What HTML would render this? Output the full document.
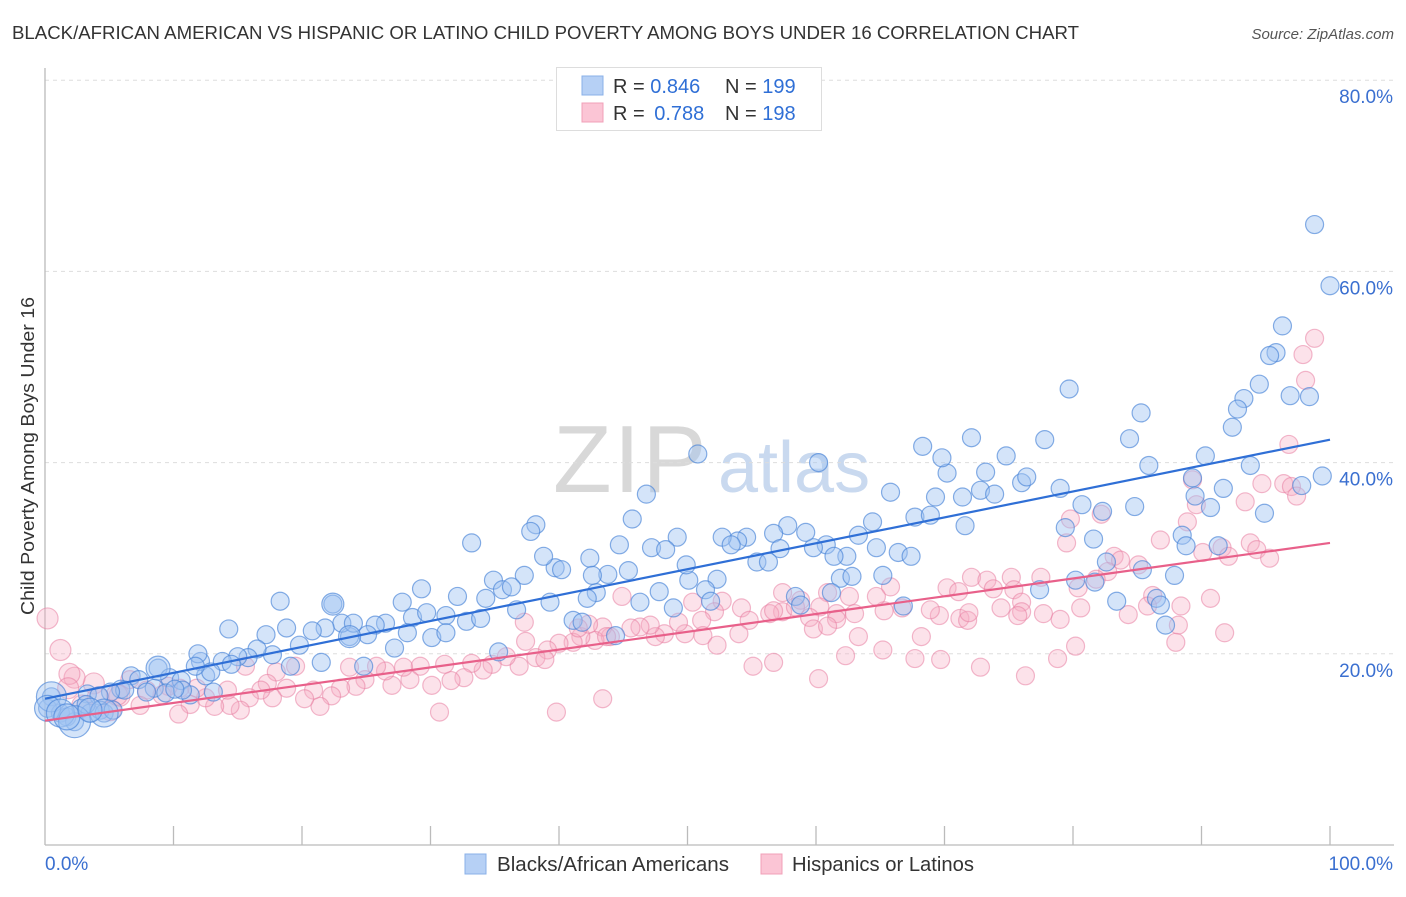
<!DOCTYPE html>
<html><head><meta charset="utf-8">
<style>
body{margin:0;background:#fff;width:1406px;height:892px;overflow:hidden;font-family:"Liberation Sans",sans-serif;}
svg text{font-family:"Liberation Sans",sans-serif;}
</style></head>
<body>
<svg id="chart" width="1406" height="892" xmlns="http://www.w3.org/2000/svg">
<text x="12" y="39" font-size="18" fill="#333" textLength="1067" lengthAdjust="spacingAndGlyphs">BLACK/AFRICAN AMERICAN VS HISPANIC OR LATINO CHILD POVERTY AMONG BOYS UNDER 16 CORRELATION CHART</text>
<text x="1394" y="39" font-size="15" fill="#555" text-anchor="end" font-style="italic">Source: ZipAtlas.com</text>
<g>
<text x="553" y="492" font-size="96" fill="#d8d8d8" font-family="Liberation Serif, serif" letter-spacing="2">ZIP</text>
<text x="718" y="492" font-size="72" fill="#c9d9ef">atlas</text>
</g>
<g id="grid"></g>
<g id="axes"></g>
<g id="pinkPts"></g>
<g id="bluePts"></g>
<g id="trends"></g>
<text transform="translate(34,456) rotate(-90)" font-size="18" fill="#333" text-anchor="middle" textLength="318" lengthAdjust="spacingAndGlyphs">Child Poverty Among Boys Under 16</text>
<g>
<rect x="556.5" y="67.5" width="265" height="63" fill="#fff" stroke="#ddd"/>
<rect x="582" y="76" width="21" height="19" fill="#b6d0f5" stroke="#8ab0e8"/>
<rect x="582" y="103" width="21" height="19" fill="#fbc5d5" stroke="#f0a0b8"/>
<text x="613" y="93" font-size="20" fill="#333">R = <tspan fill="#2f6fd6">0.846</tspan><tspan x="725">N = </tspan><tspan fill="#2f6fd6">199</tspan></text>
<text x="613" y="120" font-size="20" fill="#333">R = <tspan fill="#2f6fd6" dx="4">0.788</tspan><tspan x="725">N = </tspan><tspan fill="#2f6fd6">198</tspan></text>
</g>
<g>
<rect x="465" y="854" width="21" height="20" fill="#b6d0f5" stroke="#8ab0e8"/>
<text x="497" y="871" font-size="20" fill="#333" textLength="232" lengthAdjust="spacingAndGlyphs">Blacks/African Americans</text>
<rect x="761" y="854" width="21" height="20" fill="#fbc5d5" stroke="#f0a0b8"/>
<text x="792" y="871" font-size="20" fill="#333" textLength="182" lengthAdjust="spacingAndGlyphs">Hispanics or Latinos</text>
</g>
</svg>
<script>
const yTicks=[20,40,60,80];
const yTickLabels=["20.0%","40.0%","60.0%","80.0%"];
const xTickLabels=["0.0%","100.0%"];
const blueX=[98.8,100,96.3,95.8,95.3,94.5,96.9,98.4,93.3,92.8,92.4,79.7,85.3,99.4,97.8,93.8,90.3,89.3,85.9,84.4,91.7,90.7,94.9,89.5,88.5,91.3,88.8,85.4,87.9,84.8,82.3,80.7,81.6,79.4,82.6,80.2,81.7,77.4,83.4,86.5,86.8,87.2,77.8,72.1,74.8,73.2,76.0,79.0,76.4,72.8,73.9,71.4,69.3,70.2,68.3,69.8,65.8,67.7,68.9,71.6,64.4,63.3,64.7,66.4,67.4,62.4,60.8,59.8,59.2,57.8,56.7,57.2,55.4,56.3,54.6,53.9,52.7,53.4,60.2,50.8,52.3,50.1,49.9,49.2,47.2,48.3,46.8,45.7,44.7,45.4,43.8,42.4,42.9,42.6,42.2,61.9,62.8,65.2,61.2,58.4,58.8,51.4,51.8,48.9,47.8,46.3,66.8,61.4,38.2,37.8,39.7,40.2,38.8,33.2,37.3,34.9,35.6,36.3,34.3,32.1,39.3,41.1,41.8,44.4,36.7,35.3,29.3,27.8,28.6,29.7,31.2,32.8,33.9,30.1,31.2,28.2,26.5,25.7,25.1,27.2,24.8,23.7,22.4,23.1,24.0,21.8,20.8,19.8,18.8,18.3,17.2,14.3,17.7,21.5,19.1,16.5,15.8,15.0,13.8,14.5,12.1,12.5,12.9,11.9,11.7,8.8,9.7,10.6,6.7,7.3,8.5,7.9,5.9,6.2,5.1,3.3,4.2,0.5,0.2,1.2,1.7,2.3,2.8,3.5,4.3,4.6,5.3,3.2,9.4,11.3,10.7,10.1,13.1];
const blueY=[64.9,58.5,54.3,51.5,51.2,48.2,47.0,46.9,46.7,45.6,43.7,47.7,45.2,38.6,37.6,39.7,40.7,38.4,39.7,42.5,37.3,35.3,34.7,36.5,32.4,31.3,31.3,28.8,28.2,35.4,34.9,35.6,32.0,33.2,29.6,27.7,27.5,26.7,25.5,25.8,25.1,23.0,42.4,42.6,40.7,39.0,37.9,37.3,38.5,37.1,36.7,36.4,36.4,38.9,41.7,40.5,36.9,34.3,34.5,33.4,33.8,32.4,31.1,30.6,30.2,30.2,31.4,31.1,32.7,33.4,32.6,31.0,29.6,29.6,32.2,31.8,32.2,31.4,40.0,40.9,27.8,27.7,29.3,32.2,31.1,30.9,36.7,34.1,31.4,28.7,28.3,30.0,26.4,28.2,25.8,27.9,28.1,28.2,26.4,26.0,25.1,26.7,25.5,24.8,26.5,25.4,25.0,30.2,33.5,32.8,29.0,28.8,30.2,31.6,28.2,27.7,26.7,27.0,25.8,26.0,25.4,23.5,23.3,21.9,24.6,20.2,26.8,25.4,23.8,24.3,24.0,23.4,23.7,21.7,22.2,22.2,23.2,23.0,22.0,20.6,18.7,21.8,25.2,23.2,23.2,22.7,22.4,20.9,22.7,25.5,22.0,22.6,19.9,19.1,18.7,20.5,19.6,19.7,19.2,18.9,19.2,17.7,18.1,20.0,18.7,18.5,17.5,17.2,17.7,17.3,16.4,16.0,16.3,16.2,16.0,15.8,15.6,15.5,14.3,13.8,13.4,12.9,14.3,13.8,14.1,13.8,14.1,14.7,15.9,15.7,16.2,16.3,16.0];
const blueBig=[[0.5,15.5,15],[0.2,14.3,13],[1.2,13.8,14],[2.3,12.9,16],[1.7,13.4,13],[4.6,13.8,14],[8.8,18.5,12],[22.4,25.2,11],[23.7,21.8,11],[3.5,14.1,12]];
const pinkX=[98.8,97.9,98.1,96.8,89.3,96.4,97.0,94.7,93.4,97.4,88.9,89.6,79.8,82.2,93.8,94.3,91.6,92.1,95.3,90.1,86.8,79.5,83.2,83.7,85.1,82.7,81.8,80.4,75.2,72.1,73.3,77.5,75.4,73.8,70.2,71.1,76.0,74.4,76.0,77.7,90.7,86.2,85.8,88.4,84.3,80.6,88.2,88.0,91.8,80.2,78.8,76.3,72.8,69.7,67.7,65.2,63.3,62.3,68.2,69.6,71.2,71.8,68.9,66.7,65.3,65.8,64.7,62.6,60.9,60.3,61.6,63.0,59.5,57.4,56.4,58.8,57.4,54.2,54.8,54.0,52.7,52.1,51.1,50.4,49.8,49.3,48.2,47.5,47.1,46.3,45.6,44.0,43.4,42.8,41.7,42.3,41.1,44.9,41.5,40.0,39.1,38.2,37.4,36.9,35.9,34.8,34.1,33.2,32.6,31.6,31.1,30.1,30.7,29.2,28.4,27.9,27.0,26.5,25.8,24.9,24.2,23.7,23.0,22.3,21.4,20.9,20.2,19.5,18.8,18.0,17.7,17.3,16.8,15.9,15.6,15.2,14.4,14.2,13.2,12.5,11.8,11.3,10.4,10.5,9.6,9.1,7.9,7.4,6.6,5.8,5.1,3.8,2.9,2.3,1.9,1.2,0.2,1.8,4.1,5.6,55.1,56.7,60.2,43.4,39.8,38.9,37.3,43.7,51.2,52.3,56.7,58.4,61.6,59.8,60.9,79.0,75.7,71.9];
const pinkY=[53.0,51.3,48.6,41.9,38.2,37.8,37.5,37.8,35.9,36.5,33.8,35.6,34.1,34.6,31.6,30.9,31.1,30.2,30.0,30.6,31.9,31.6,30.2,29.8,29.3,28.6,27.8,26.9,28.0,28.0,27.7,28.0,26.7,26.8,26.9,26.5,25.4,24.8,24.4,24.2,25.8,26.1,25.0,25.0,24.1,24.8,23.0,21.2,22.2,20.8,19.5,17.7,18.6,19.4,19.5,20.4,21.8,19.8,21.8,24.0,23.7,23.5,24.6,24.8,24.5,27.0,26.0,26.0,26.4,24.9,24.2,24.2,23.8,24.4,24.2,25.6,26.4,24.8,23.5,22.1,25.5,24.4,23.5,25.4,22.1,23.3,22.1,21.8,23.0,22.8,22.7,21.8,22.8,21.4,21.8,23.1,21.2,26.0,22.7,21.1,20.4,19.6,21.3,18.7,19.7,18.9,18.3,19.0,17.5,17.2,18.9,16.7,13.9,18.7,17.3,18.6,16.7,18.2,18.7,17.3,16.6,18.6,16.4,15.6,14.5,16.2,15.3,18.7,16.4,18.1,15.4,16.9,16.2,15.4,18.7,14.1,14.6,16.2,14.5,15.4,16.4,14.7,13.7,16.4,16.6,15.7,16.2,14.6,17.3,15.6,14.1,16.9,14.6,17.5,17.9,20.4,23.7,16.4,15.4,15.7,18.7,19.1,17.4,15.3,13.9,19.4,23.3,21.8,21.9,20.9,24.5,24.9,23.6,22.6,22.9,23.6,24.0,24.3];
const blueTrend=[15.3,42.4];
const pinkTrend=[13.0,31.6];

const NS="http://www.w3.org/2000/svg";
const X0=45,X1=1330,Y0=845,YPER=9.56;
function sx(v){return X0+(X1-X0)*v/100;}
function sy(v){return Y0-v*YPER;}
function mk(tag,attrs,parent){const e=document.createElementNS(NS,tag);for(const k in attrs)e.setAttribute(k,attrs[k]);parent.appendChild(e);return e;}

const grid=document.getElementById('grid');
yTicks.forEach((t,i)=>{
  const l=mk('line',{x1:45,x2:1394,y1:sy(t),y2:sy(t),stroke:'#ddd','stroke-dasharray':'4,4'},grid);
  
  
  const tx=mk('text',{x:1393,y:sy(t)+23,'font-size':19,fill:'#3a6fd0','text-anchor':'end'},grid);
  tx.textContent=yTickLabels[i];
  
  
});
const axes=document.getElementById('axes');
const ya=mk('line',{x1:45,x2:45,y1:68,y2:845,stroke:'#bbb','stroke-width':1.3},axes);


const xa=mk('line',{x1:45,x2:1394,y1:845,y2:845,stroke:'#bbb','stroke-width':1.3},axes);


for(let i=1;i<=10;i++){
  const t=mk('line',{x1:sx(i*10),x2:sx(i*10),y1:826,y2:845,stroke:'#bbb','stroke-width':1.3},axes);
  
  
}
const xl0=mk('text',{x:45,y:870,'font-size':19,fill:'#3a6fd0'},axes);
xl0.textContent=xTickLabels[0];


const xl1=mk('text',{x:1393,y:870,'font-size':19,fill:'#3a6fd0','text-anchor':'end'},axes);
xl1.textContent=xTickLabels[1];



const pg=document.getElementById('pinkPts');
pinkX.forEach((x,i)=>{
  if(pinkY[i]===undefined) return;
  const c=mk('circle',{cx:sx(x),cy:sy(pinkY[i]),r:x<6?10.5:9,fill:'rgba(246,172,196,0.35)',stroke:'rgba(232,128,162,0.55)','stroke-width':1.2},pg);
  
  
});
const bg=document.getElementById('bluePts');
blueX.forEach((x,i)=>{
  if(blueY[i]===undefined) return;
  const c=mk('circle',{cx:sx(x),cy:sy(blueY[i]),r:9,fill:'rgba(160,196,242,0.45)',stroke:'rgba(70,130,215,0.65)','stroke-width':1.2},bg);
  
  
});
blueBig.forEach(p=>{
  const c=mk('circle',{cx:sx(p[0]),cy:sy(p[1]),r:p[2],fill:'rgba(160,196,242,0.45)',stroke:'rgba(70,130,215,0.65)','stroke-width':1.2},bg);
  
  
});
const tg=document.getElementById('trends');
const bt=mk('line',{x1:sx(0),y1:sy(blueTrend[0]),x2:sx(100),y2:sy(blueTrend[1]),stroke:'#2f6fd6','stroke-width':2.2},tg);


const pt=mk('line',{x1:sx(0),y1:sy(pinkTrend[0]),x2:sx(100),y2:sy(pinkTrend[1]),stroke:'#e8608a','stroke-width':2.2},tg);


</script>
</body></html>
